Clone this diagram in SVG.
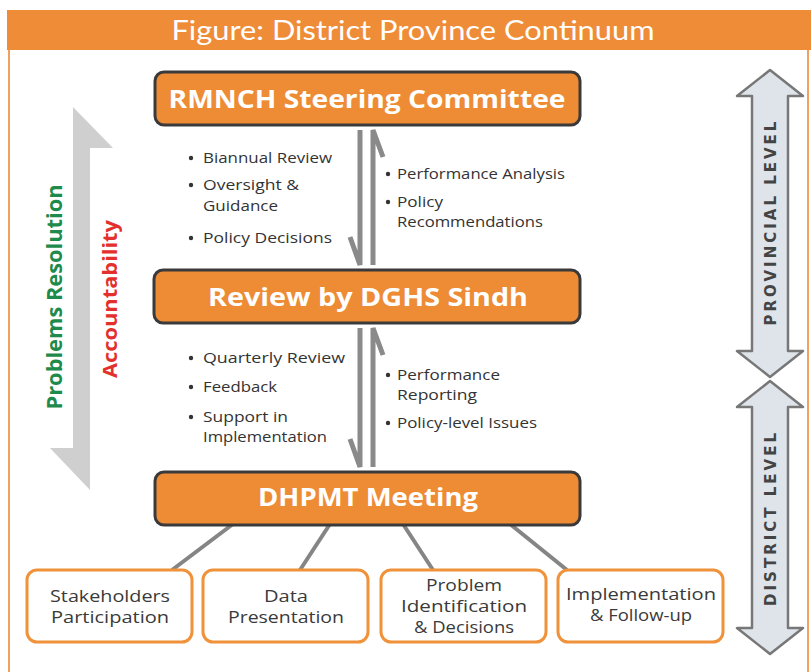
<svg xmlns="http://www.w3.org/2000/svg" width="811" height="672" viewBox="0 0 811 672">
<defs>
<style>
.node{fill:#EE8B35;stroke:#3a3a3a;stroke-width:3}
.ntxt{font-family:"Open Sans","DejaVu Sans",sans-serif;font-weight:bold;font-size:25px;fill:#fff;text-anchor:middle}
.sub{fill:#fff;stroke:#F0923A;stroke-width:3}
.stxt{font-family:"Open Sans","Liberation Sans",sans-serif;font-size:16px;fill:#3a3a3a;text-anchor:middle}
.btxt{font-family:"Open Sans","Liberation Sans",sans-serif;font-size:15px;fill:#333}
.dot{fill:#333}
.flow{stroke:#8a8a8a;stroke-width:5;fill:none;stroke-linecap:butt}
.conn{stroke:#858585;stroke-width:4;fill:none}
.lvl{fill:#dfe4ea;stroke:#777;stroke-width:2.5;stroke-linejoin:round}
.ltxt{font-family:"DejaVu Sans","Liberation Sans",sans-serif;font-weight:bold;font-size:15px;fill:#444;letter-spacing:3px;text-anchor:middle}
</style>
</defs>
<rect x="0" y="0" width="811" height="672" fill="#fff"/>
<rect x="9" y="30" width="799" height="660" fill="#fff" stroke="#F0A060" stroke-width="2"/>
<g id="title">
<rect x="7" y="10" width="804" height="40" fill="#EF8C38"/>
<text x="413" y="40" font-family="Lato,'Liberation Sans',sans-serif" font-size="27" fill="#fff" text-anchor="middle" textLength="483" lengthAdjust="spacingAndGlyphs">Figure: District Province Continuum</text>
</g>
<g id="left-arrow">
<polygon points="73,107 113,148 90,148 90,490 50,448 73,448" fill="#cfcfcf"/>
<text transform="translate(62,297) rotate(-90)" font-family="'Open Sans','DejaVu Sans',sans-serif" font-weight="bold" font-size="21" fill="#1e8a4c" text-anchor="middle" textLength="225" lengthAdjust="spacingAndGlyphs">Problems Resolution</text>
<text transform="translate(117,299) rotate(-90)" font-family="'Open Sans','DejaVu Sans',sans-serif" font-weight="bold" font-size="20" fill="#e3302c" text-anchor="middle" textLength="158" lengthAdjust="spacingAndGlyphs">Accountability</text>
</g>
<g id="provincial-level">
<polygon class="lvl" points="770,70 803,96 788,96 788,351 803,351 770,377 737,351 752,351 752,96 737,96"/>
<text class="ltxt" transform="translate(776,222) rotate(-90)">PROVINCIAL LEVEL</text>
</g>
<g id="district-level">
<polygon class="lvl" points="770,381 803,407 788,407 788,628 803,628 770,654 737,628 752,628 752,407 737,407"/>
<text class="ltxt" transform="translate(776,518) rotate(-90)">DISTRICT LEVEL</text>
</g>
<g id="connectors">
<path class="flow" d="M360,130 V265 L350,237"/>
<path class="flow" d="M373,265 V130 L383,157"/>
<path class="flow" d="M360,328 V467 L350,439"/>
<path class="flow" d="M373,467 V328 L383,355"/>
<line class="conn" x1="233" y1="524" x2="172" y2="570"/>
<line class="conn" x1="330" y1="524" x2="300" y2="570"/>
<line class="conn" x1="403" y1="524" x2="433" y2="570"/>
<line class="conn" x1="510" y1="524" x2="567" y2="570"/>
</g>
<g id="rmnch">
<rect class="node" x="155" y="72" width="425" height="53" rx="9"/>
<text class="ntxt" x="367" y="108" textLength="397" lengthAdjust="spacingAndGlyphs">RMNCH Steering Committee</text>
</g>
<g id="dghs">
<rect class="node" x="154" y="270" width="426" height="53" rx="9"/>
<text class="ntxt" x="368" y="306" textLength="320" lengthAdjust="spacingAndGlyphs">Review by DGHS Sindh</text>
</g>
<g id="dhpmt">
<rect class="node" x="155" y="472" width="425" height="53" rx="9"/>
<text class="ntxt" x="368" y="506" textLength="220" lengthAdjust="spacingAndGlyphs">DHPMT Meeting</text>
</g>
<g id="labels-top-left" class="btxt">
<circle class="dot" cx="191" cy="158" r="2.2"/><text x="203" y="163" textLength="129" lengthAdjust="spacingAndGlyphs">Biannual Review</text>
<circle class="dot" cx="191" cy="185" r="2.2"/><text x="203" y="190" textLength="96" lengthAdjust="spacingAndGlyphs">Oversight &amp;</text>
<text x="203" y="211" textLength="75" lengthAdjust="spacingAndGlyphs">Guidance</text>
<circle class="dot" cx="191" cy="238" r="2.2"/><text x="203" y="243" textLength="129" lengthAdjust="spacingAndGlyphs">Policy Decisions</text>
</g>
<g id="labels-top-right" class="btxt">
<circle class="dot" cx="388" cy="174" r="2.2"/><text x="397" y="179" textLength="168" lengthAdjust="spacingAndGlyphs">Performance Analysis</text>
<circle class="dot" cx="388" cy="202" r="2.2"/><text x="397" y="207" textLength="46" lengthAdjust="spacingAndGlyphs">Policy</text>
<text x="397" y="227" textLength="146" lengthAdjust="spacingAndGlyphs">Recommendations</text>
</g>
<g id="labels-bottom-left" class="btxt">
<circle class="dot" cx="191" cy="358" r="2.2"/><text x="203" y="363" textLength="142" lengthAdjust="spacingAndGlyphs">Quarterly Review</text>
<circle class="dot" cx="191" cy="387" r="2.2"/><text x="203" y="392" textLength="74" lengthAdjust="spacingAndGlyphs">Feedback</text>
<circle class="dot" cx="191" cy="417" r="2.2"/><text x="203" y="422" textLength="85" lengthAdjust="spacingAndGlyphs">Support in</text>
<text x="203" y="442" textLength="124" lengthAdjust="spacingAndGlyphs">Implementation</text>
</g>
<g id="labels-bottom-right" class="btxt">
<circle class="dot" cx="388" cy="375" r="2.2"/><text x="397" y="380" textLength="103" lengthAdjust="spacingAndGlyphs">Performance</text>
<text x="397" y="400" textLength="80" lengthAdjust="spacingAndGlyphs">Reporting</text>
<circle class="dot" cx="388" cy="423" r="2.2"/><text x="397" y="428" textLength="140" lengthAdjust="spacingAndGlyphs">Policy-level Issues</text>
</g>
<g id="stakeholders">
<rect class="sub" x="27" y="570" width="165" height="72" rx="10"/>
<text class="stxt" x="110" y="602" textLength="120" lengthAdjust="spacingAndGlyphs">Stakeholders</text>
<text class="stxt" x="110" y="623" textLength="118" lengthAdjust="spacingAndGlyphs">Participation</text>
</g>
<g id="data">
<rect class="sub" x="203" y="570" width="165" height="72" rx="10"/>
<text class="stxt" x="286" y="602" textLength="44" lengthAdjust="spacingAndGlyphs">Data</text>
<text class="stxt" x="286" y="623" textLength="116" lengthAdjust="spacingAndGlyphs">Presentation</text>
</g>
<g id="problem">
<rect class="sub" x="381" y="570" width="165" height="72" rx="10"/>
<text class="stxt" x="464" y="591" textLength="76" lengthAdjust="spacingAndGlyphs">Problem</text>
<text class="stxt" x="464" y="612" textLength="126" lengthAdjust="spacingAndGlyphs">Identification</text>
<text class="stxt" x="464" y="633" textLength="100" lengthAdjust="spacingAndGlyphs">&amp; Decisions</text>
</g>
<g id="implementation">
<rect class="sub" x="558" y="570" width="165" height="72" rx="10"/>
<text class="stxt" x="641" y="600" textLength="150" lengthAdjust="spacingAndGlyphs">Implementation</text>
<text class="stxt" x="641" y="621" textLength="102" lengthAdjust="spacingAndGlyphs">&amp; Follow-up</text>
</g>
</svg>
